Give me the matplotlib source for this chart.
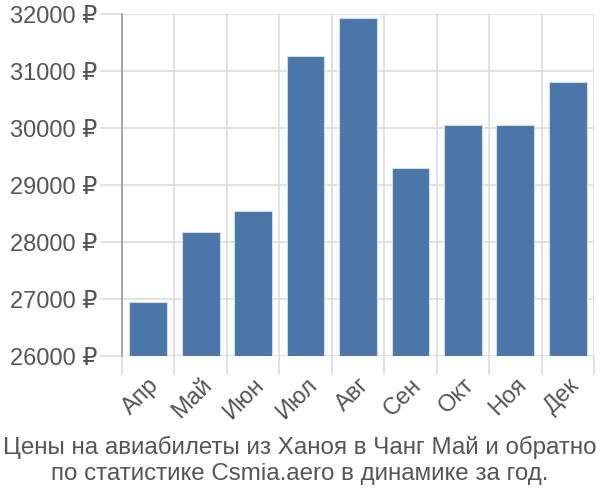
import matplotlib.pyplot as plt
import numpy as np

plt.rcParams['font.family'] = ['Liberation Sans', 'DejaVu Sans']

months = ['Апр', 'Май', 'Июн', 'Июл', 'Авг', 'Сен', 'Окт', 'Ноя', 'Дек']
prices = [26950, 28180, 28550, 31270, 31930, 29300, 30050, 30050, 30810]
y_ticks = [26000, 27000, 28000, 29000, 30000, 31000, 32000]

fig = plt.figure(figsize=(6, 5), dpi=100)
ax = fig.add_axes([122 / 600, 1 - 356 / 500, 472 / 600, 342 / 500])

x = np.arange(len(months))
ax.bar(x, prices, width=0.72, color='#4a76a8', edgecolor='#d0dcea', linewidth=0.8, zorder=3)

ax.set_xlim(-0.5, len(months) - 0.5)
ax.set_ylim(26000, 32000)
ax.set_yticks(y_ticks)
ax.set_yticklabels([f'{v} ₽' for v in y_ticks])

# категории: подписи по центру, сетка по границам
ax.set_xticks(x)
ax.set_xticklabels(months, rotation=45, ha='right', rotation_mode='anchor')
ax.set_xticks(np.arange(len(months) + 1) - 0.5, minor=True)

ax.grid(True, axis='y', color='#dddddd', linewidth=1.2, zorder=0)
ax.grid(True, axis='x', which='minor', color='#dddddd', linewidth=1.2, zorder=0)

ax.tick_params(axis='y', length=16, color='#dddddd', width=1.2, labelsize=17,
               labelcolor='#555555', pad=2)
ax.tick_params(axis='x', which='major', length=0, labelsize=17, labelcolor='#555555', pad=13)
ax.tick_params(axis='x', which='minor', length=14, color='#dddddd', width=1.2)

for side in ['top', 'right', 'bottom']:
    ax.spines[side].set_visible(False)
ax.spines['left'].set_color('#999999')
ax.spines['left'].set_linewidth(1.2)

fig.text(0.5, 1 - 447 / 500, 'Цены на авиабилеты из Ханоя в Чанг Май и обратно',
         ha='center', va='center', fontsize=17.4, color='#555555')
fig.text(0.5, 1 - 474 / 500, 'по статистике Csmia.aero в динамике за год.',
         ha='center', va='center', fontsize=17.4, color='#555555')

fig.savefig('out.png', dpi=100)
